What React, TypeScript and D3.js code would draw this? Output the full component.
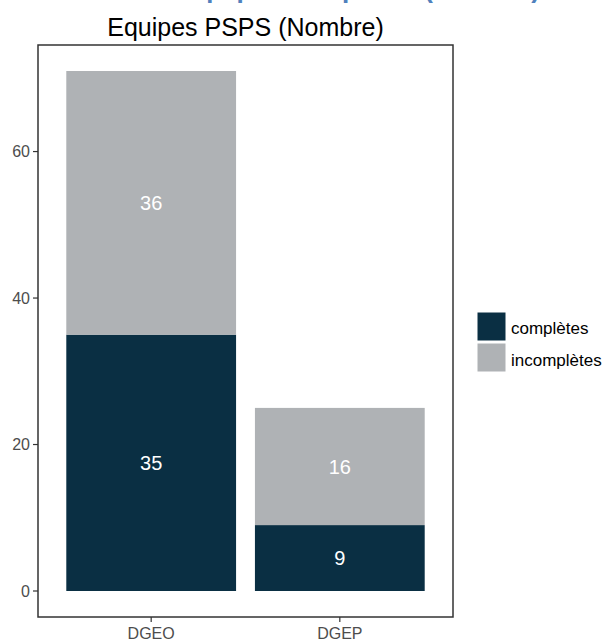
import React from "react";
import * as d3 from "d3";

const categories = ["DGEO", "DGEP"];
const seriesNames = ["complètes", "incomplètes"];
const completes = [35, 9];
const incompletes = [36, 16];
const yTicks = [0, 20, 40, 60];
const colors = ["#0a2f43", "#afb2b5"];

const W = 608;
const H = 641;
const panel = { left: 38, right: 453, top: 45, bottom: 617 };

export default function App() {
  const totals = categories.map((_, i) => completes[i] + incompletes[i]);
  const maxV = d3.max(totals) as number;
  const y = d3
    .scaleLinear()
    .domain([-maxV * 0.05, maxV * 1.05])
    .range([panel.bottom, panel.top]);
  const x = d3
    .scaleLinear()
    .domain([0.4, categories.length + 0.6])
    .range([panel.left, panel.right]);
  const barW = x(1.9) - x(1);
  const stack = d3
    .stack<number>()
    .keys(["0", "1"])
    .value((i, k) => (k === "0" ? completes[i] : incompletes[i]))(
    categories.map((_, i) => i)
  );
  const font = "'Liberation Sans', Arial, sans-serif";

  return (
    <svg
      width={W}
      height={H}
      style={{ position: "absolute", left: 0, top: 0, background: "#fff" }}
      fontFamily={font}
    >
      <text
        x={360}
        y={-2}
        textAnchor="middle"
        fontSize={26}
        fontWeight="bold"
        fill="#4f81bd"
      >
        Equipes complètes (Nombre)
      </text>
      <text x={(panel.left + panel.right) / 2} y={36} textAnchor="middle" fontSize={25} fill="#000">
        Equipes PSPS (Nombre)
      </text>
      {stack.map((layer, si) =>
        layer.map((d, i) => (
          <rect
            key={`${si}-${i}`}
            x={x(i + 1) - barW / 2}
            width={barW}
            y={y(d[1])}
            height={y(d[0]) - y(d[1])}
            fill={colors[si]}
          />
        ))
      )}
      {stack.map((layer, si) =>
        layer.map((d, i) => (
          <text
            key={`t${si}-${i}`}
            x={x(i + 1)}
            y={y((d[0] + d[1]) / 2)}
            dy="0.36em"
            textAnchor="middle"
            fontSize={20}
            fill="#fff"
          >
            {d[1] - d[0]}
          </text>
        ))
      )}
      <rect
        x={panel.left}
        y={panel.top}
        width={panel.right - panel.left}
        height={panel.bottom - panel.top}
        fill="none"
        stroke="#333"
        strokeWidth={1.5}
      />
      {yTicks.map((t) => (
        <g key={t}>
          <line x1={panel.left - 5} x2={panel.left} y1={y(t)} y2={y(t)} stroke="#333" strokeWidth={1.2} />
          <text x={panel.left - 8} y={y(t)} dy="0.36em" textAnchor="end" fontSize={16} fill="#4d4d4d">
            {t}
          </text>
        </g>
      ))}
      {categories.map((c, i) => (
        <g key={c}>
          <line x1={x(i + 1)} x2={x(i + 1)} y1={panel.bottom} y2={panel.bottom + 5} stroke="#333" strokeWidth={1.2} />
          <text x={x(i + 1)} y={639} textAnchor="middle" fontSize={16} fill="#4d4d4d">
            {c}
          </text>
        </g>
      ))}
      {seriesNames.map((s, i) => (
        <g key={s}>
          <rect x={477} y={312 + i * 31} width={29} height={29} fill={colors[i]} stroke="#fff" strokeWidth={1} />
          <text x={511} y={328 + i * 32} dy="0.35em" fontSize={17} fill="#000">
            {s}
          </text>
        </g>
      ))}
    </svg>
  );
}
